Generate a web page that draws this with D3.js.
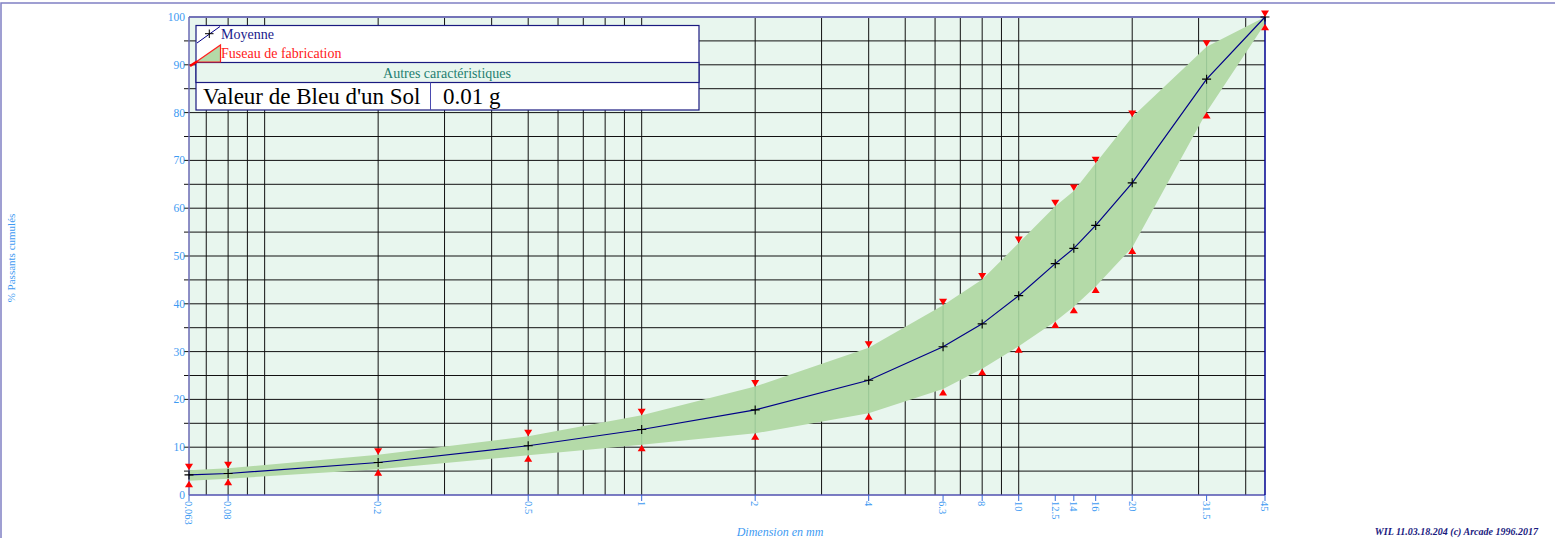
<!DOCTYPE html>
<html>
<head>
<meta charset="utf-8">
<script src="https://cdn.jsdelivr.net/npm/d3@7"></script>
<style>
  body { margin: 0; background: #fff; }
  svg { display: block; font-family: "Liberation Serif", "Times New Roman", serif; }
</style>
</head>
<body>
<svg id="chart" width="1555" height="538"></svg>
<script>
// tamis (mm) et valeurs
let sizes = [0.063, 0.08, 0.2, 0.5, 1, 2, 4, 6.3, 8, 10, 12.5, 14, 16, 20, 31.5, 45];
let sizeLabels = ["0.063", "0.08", "0.2", "0.5", "1", "2", "4", "6.3", "8", "10", "12.5", "14", "16", "20", "31.5", "45"];
let moyenne = [4.2, 4.5, 6.8, 10.3, 13.7, 17.8, 24.0, 31.0, 35.8, 41.7, 48.4, 51.6, 56.4, 65.3, 87.0, 100];
let fuseauHaut = [5.2, 5.6, 8.4, 12.3, 16.7, 22.7, 30.8, 39.7, 45.1, 52.7, 60.4, 63.6, 69.4, 79.1, 93.8, 100];
let fuseauBas = [3.0, 3.4, 5.4, 8.3, 10.5, 12.9, 17.1, 22.2, 26.4, 31.1, 36.3, 39.4, 43.6, 51.8, 80.1, 98.6];
let yTicks = [0, 10, 20, 30, 40, 50, 60, 70, 80, 90, 100];

let svg = d3.select("#chart");

let pLeft = 189, pRight = 1265, pTop = 17, pBottom = 495;

let x = d3.scaleLog().domain([0.063, 45]).range([pLeft, pRight]);
let y = d3.scaleLinear().domain([0, 100]).range([pBottom, pTop]);

// cadre de page
svg.append("rect").attr("x", 1).attr("y", 3).attr("width", 1600).attr("height", 600)
  .attr("fill", "none").attr("stroke", "#8080c4").attr("stroke-width", 1.5);

// fond du graphique
svg.append("rect").attr("x", pLeft).attr("y", pTop).attr("width", pRight - pLeft).attr("height", pBottom - pTop)
  .attr("fill", "#e8f6ee");

// grille verticale (1..9 x 10^k)
let gridX = [];
[0.01, 0.1, 1, 10].forEach(function(k) {
  d3.range(1, 10).forEach(function(n) {
    let v = +(n * k).toPrecision(3);
    if (v > 0.063 && v < 45) gridX.push(v);
  });
});

svg.append("g").selectAll("line")
  .data(gridX)
  .enter().append("line")
    .attr("x1", function(d) { return x(d); })
    .attr("x2", function(d) { return x(d); })
    .attr("y1", pTop).attr("y2", pBottom)
    .attr("stroke", "#111").attr("stroke-width", 1);

// grille horizontale tous les 5 %
let gridY = d3.range(5, 100, 5);
svg.append("g").selectAll("line")
  .data(gridY)
  .enter().append("line")
    .attr("x1", pLeft - 5).attr("x2", pRight)
    .attr("y1", function(d) { return y(d); })
    .attr("y2", function(d) { return y(d); })
    .attr("stroke", "#111").attr("stroke-width", 1);

// fuseau
let table = sizes.map(function(s, i) {
  return { s: s, m: moyenne[i], hi: fuseauHaut[i], lo: fuseauBas[i], label: sizeLabels[i] };
});

let area = d3.area()
  .x(function(d) { return x(d.s); })
  .y0(function(d) { return y(d.lo); })
  .y1(function(d) { return y(d.hi); });

svg.append("path")
  .attr("d", area(table))
  .attr("fill", "#b4daa8");

// traits verticaux pâles du fuseau
svg.append("g").selectAll("line")
  .data(table)
  .enter().append("line")
    .attr("x1", function(d) { return x(d.s); })
    .attr("x2", function(d) { return x(d.s); })
    .attr("y1", function(d) { return y(d.lo); })
    .attr("y2", function(d) { return y(d.hi); })
    .attr("stroke", "#98c594").attr("stroke-width", 1);

// axes / bordures
svg.append("line").attr("x1", pLeft).attr("x2", pRight).attr("y1", pTop).attr("y2", pTop)
  .attr("stroke", "#7474b8").attr("stroke-width", 2);
svg.append("line").attr("x1", pLeft).attr("x2", pRight).attr("y1", pBottom).attr("y2", pBottom)
  .attr("stroke", "#5050b0").attr("stroke-width", 1.5);
svg.append("line").attr("x1", pLeft).attr("x2", pLeft).attr("y1", pTop).attr("y2", pBottom)
  .attr("stroke", "#6a6ab4").attr("stroke-width", 1.5);
svg.append("line").attr("x1", pRight).attr("x2", pRight).attr("y1", pTop).attr("y2", pBottom)
  .attr("stroke", "#000090").attr("stroke-width", 1.5);

// axe X : tics et libellés des tamis
let xTicks = svg.append("g").selectAll("g")
  .data(table)
  .enter().append("g")
    .attr("transform", function(d) { return "translate(" + x(d.s) + "," + pBottom + ")"; });

xTicks.append("line").attr("y1", 0).attr("y2", 6).attr("stroke", "#3a6ad8").attr("stroke-width", 1);
xTicks.append("text")
  .attr("transform", "translate(0,6) rotate(90)")
  .attr("dy", "0.35em")
  .attr("font-size", 10.5)
  .attr("fill", "#3d9af2")
  .text(function(d) { return d.label; });

// axe Y
svg.append("g").selectAll("text")
  .data(yTicks)
  .enter().append("text")
    .attr("x", pLeft - 4)
    .attr("y", function(d) { return y(d); })
    .attr("dy", "0.35em")
    .attr("text-anchor", "end")
    .attr("font-size", 11.5)
    .attr("fill", "#3d9af2")
    .text(function(d) { return d; });

svg.append("text")
  .attr("transform", "translate(15,258) rotate(-90)")
  .attr("text-anchor", "middle")
  .attr("font-size", 11)
  .attr("fill", "#3d9af2")
  .text("% Passants cumulés");

svg.append("text")
  .attr("x", 780).attr("y", 536)
  .attr("text-anchor", "middle")
  .attr("font-size", 12)
  .attr("font-style", "italic")
  .attr("fill", "#3d9af2")
  .text("Dimension en mm");

svg.append("text")
  .attr("x", 1538).attr("y", 535)
  .attr("text-anchor", "end")
  .attr("font-size", 10)
  .attr("font-style", "italic")
  .attr("font-weight", "bold")
  .attr("fill", "#1a1a80")
  .text("WIL 11.03.18.204 (c) Arcade 1996.2017");

// courbe moyenne
let line = d3.line()
  .x(function(d) { return x(d.s); })
  .y(function(d) { return y(d.m); });

svg.append("path")
  .attr("d", line(table))
  .attr("fill", "none")
  .attr("stroke", "#000088")
  .attr("stroke-width", 1.2);

svg.append("g").selectAll("path")
  .data(table)
  .enter().append("path")
    .attr("d", function(d) {
      let cx = x(d.s), cy = y(d.m);
      return "M" + (cx - 4.5) + "," + cy + "H" + (cx + 4.5) + "M" + cx + "," + (cy - 4.5) + "V" + (cy + 4.5);
    })
    .attr("stroke", "#000").attr("stroke-width", 1.1);

// triangles du fuseau
svg.append("g").selectAll("path")
  .data(table)
  .enter().append("path")
    .attr("d", function(d) {
      let cx = x(d.s), cy = y(d.hi);
      return "M" + (cx - 4) + "," + (cy - 6.5) + "L" + (cx + 4) + "," + (cy - 6.5) + "L" + cx + "," + cy + "Z";
    })
    .attr("fill", "#ff0000");

svg.append("g").selectAll("path")
  .data(table)
  .enter().append("path")
    .attr("d", function(d) {
      let cx = x(d.s), cy = y(d.lo);
      return "M" + (cx - 4) + "," + (cy + 6.5) + "L" + (cx + 4) + "," + (cy + 6.5) + "L" + cx + "," + cy + "Z";
    })
    .attr("fill", "#ff0000");

// légende
let lg = svg.append("g");
lg.append("rect").attr("x", 196).attr("y", 25.5).attr("width", 503).attr("height", 84.5)
  .attr("fill", "#fff").attr("stroke", "#1a1a80").attr("stroke-width", 1.2);
lg.append("rect").attr("x", 196).attr("y", 62.5).attr("width", 503).attr("height", 20)
  .attr("fill", "#e8f6ee").attr("stroke", "#1a1a80").attr("stroke-width", 1.2);
lg.append("line").attr("x1", 430.5).attr("x2", 430.5).attr("y1", 82.5).attr("y2", 110)
  .attr("stroke", "#4a4ab0").attr("stroke-width", 1);

lg.append("line").attr("x1", 197).attr("y1", 43).attr("x2", 220).attr("y2", 26.5)
  .attr("stroke", "#000088").attr("stroke-width", 1);
lg.append("path").attr("d", "M205,33.7H213.5M209.3,29.5V38")
  .attr("stroke", "#000").attr("stroke-width", 1);
lg.append("text").attr("x", 221).attr("y", 39).attr("font-size", 14).attr("fill", "#1a1a8c").text("Moyenne");

lg.append("path").attr("d", "M196,62L220.5,45L220.5,62Z")
  .attr("fill", "#b4daa8").attr("stroke", "#ff2020").attr("stroke-width", 1.2);
lg.append("line").attr("x1", 190).attr("y1", 66).attr("x2", 197).attr("y2", 61.5)
  .attr("stroke", "#ff0000").attr("stroke-width", 2.5);
lg.append("text").attr("x", 221).attr("y", 58).attr("font-size", 14).attr("fill", "#ff2020").text("Fuseau de fabrication");

lg.append("text").attr("x", 447).attr("y", 77.5).attr("text-anchor", "middle")
  .attr("font-size", 14).attr("fill", "#1f7f70").text("Autres caractéristiques");

lg.append("text").attr("x", 203).attr("y", 103.5).attr("font-size", 23).attr("fill", "#000").text("Valeur de Bleu d'un Sol");
lg.append("text").attr("x", 443).attr("y", 103.5).attr("font-size", 23).attr("fill", "#000").text("0.01 g");
</script>
</body>
</html>
